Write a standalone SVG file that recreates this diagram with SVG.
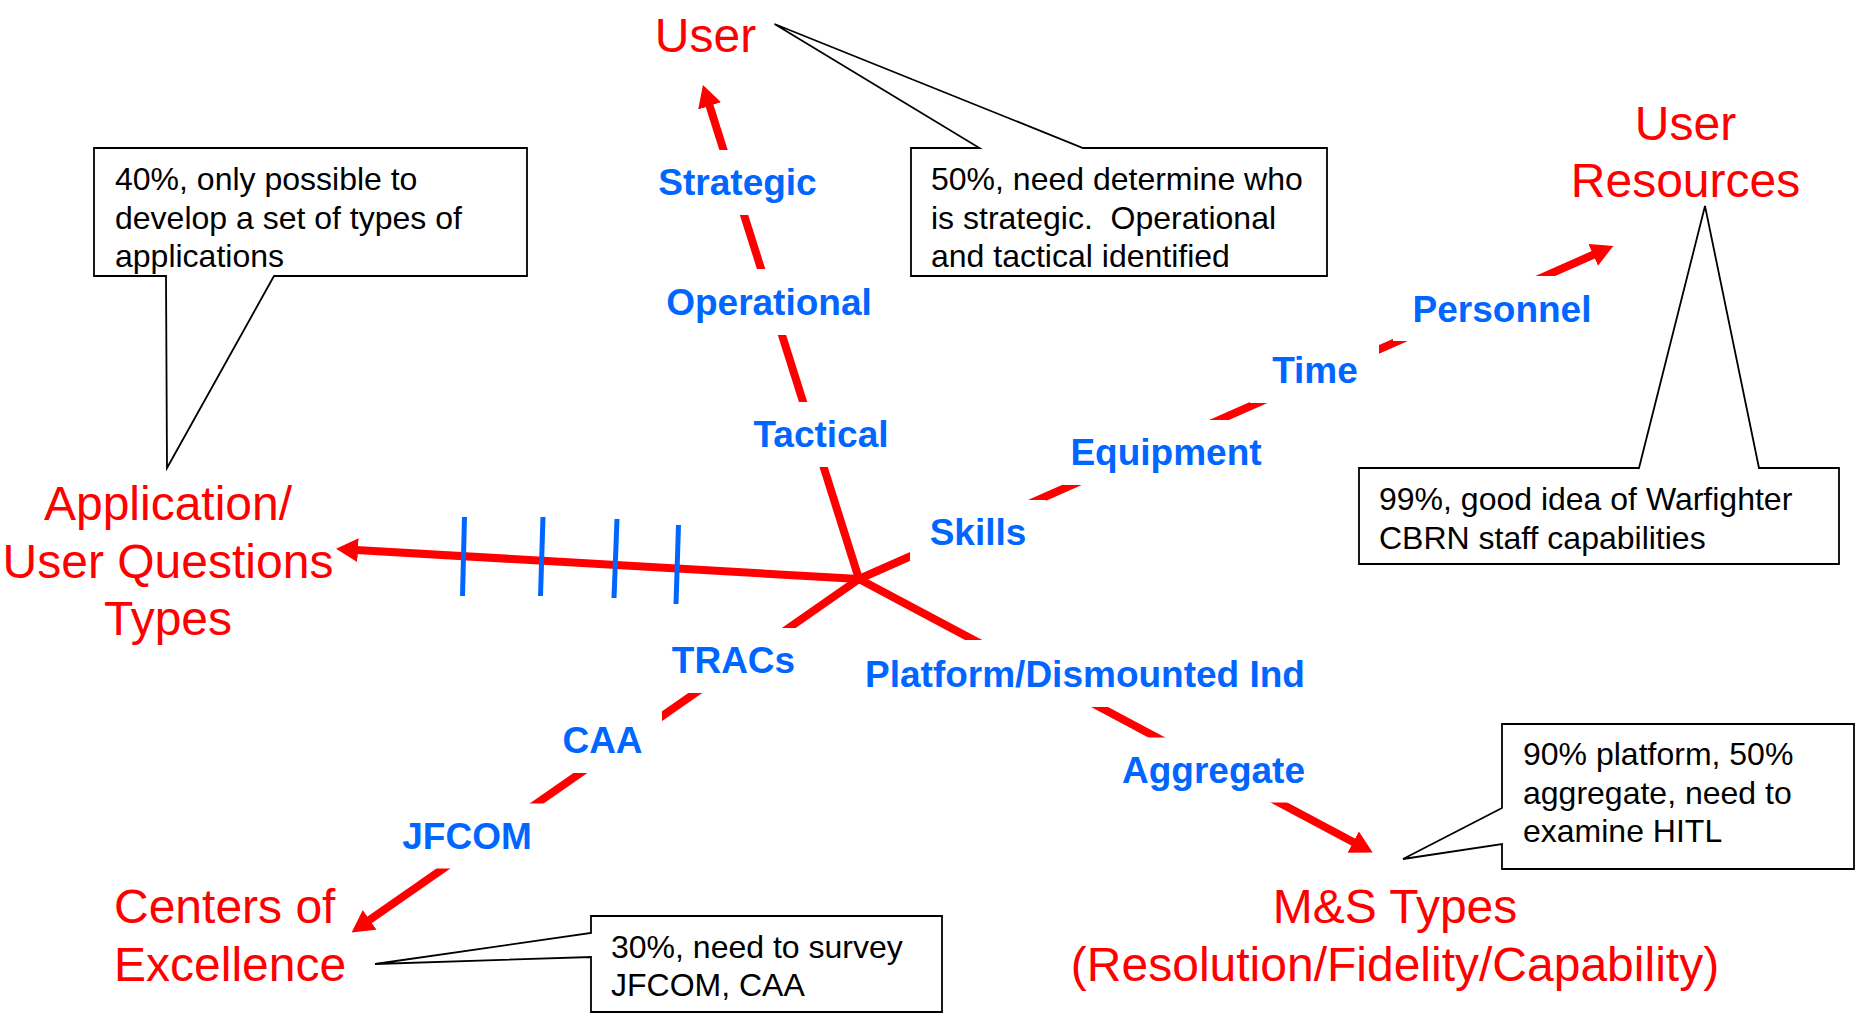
<svg xmlns="http://www.w3.org/2000/svg" width="1865" height="1017" viewBox="0 0 1865 1017">
  <style>
    .axis { stroke: #FF0000; stroke-width: 8; fill: none; }
    .tick { stroke: #0066FF; stroke-width: 5; }
    .lbl { font-family: "Liberation Sans", Arial, sans-serif; font-weight: bold; font-size: 37px; fill: #0066FF; text-anchor: middle; }
    .gap { fill: #FFFFFF; stroke: none; }
    .head { font-family: "Liberation Sans", Arial, sans-serif; font-size: 48px; fill: #FF0000; }
    .note { fill: #FFFFFF; stroke: #000000; stroke-width: 1.8; stroke-linejoin: miter; }
    .note-text { font-family: "Liberation Sans", Arial, sans-serif; font-size: 32px; fill: #000000; }
  </style>
  <defs>
    <marker id="arrow" viewBox="0 0 22 24" refX="2" refY="12" markerWidth="22" markerHeight="24" markerUnits="userSpaceOnUse" orient="auto">
      <path d="M0,0 L22,12 L0,24 Z" fill="#FF0000"/>
    </marker>
  </defs>
  <rect width="1865" height="1017" fill="#FFFFFF"/>

  <!-- red axes radiating from the hub, with arrowheads -->
  <g id="connectors">
    <line class="axis" x1="859" y1="579" x2="356" y2="550" marker-end="url(#arrow)"/>
    <line class="axis" x1="859" y1="579" x2="709" y2="104" marker-end="url(#arrow)"/>
    <line class="axis" x1="859" y1="579" x2="1595" y2="254" marker-end="url(#arrow)"/>
    <line class="axis" x1="859" y1="579" x2="368" y2="921" marker-end="url(#arrow)"/>
    <line class="axis" x1="859" y1="579" x2="1355" y2="843" marker-end="url(#arrow)"/>
    <!-- blue tick marks on the application axis -->
    <line class="tick" x1="464.5" y1="517" x2="462.5" y2="596"/>
    <line class="tick" x1="543" y1="517" x2="540.5" y2="596"/>
    <line class="tick" x1="617" y1="519" x2="614" y2="598"/>
    <line class="tick" x1="678.5" y1="525" x2="676" y2="604"/>
  </g>

  <!-- axis labels (white boxes break the red lines) -->
  <g id="lbl-strategic"><rect class="gap" x="638" y="150" width="199" height="65"/><text class="lbl" x="737.5" y="195">Strategic</text></g>
  <g id="lbl-operational"><rect class="gap" x="647" y="269" width="244" height="66"/><text class="lbl" x="769" y="315">Operational</text></g>
  <g id="lbl-tactical"><rect class="gap" x="733" y="402" width="176" height="65"/><text class="lbl" x="821" y="447">Tactical</text></g>
  <g id="lbl-skills"><rect class="gap" x="910" y="500" width="136" height="65"/><text class="lbl" x="978" y="545">Skills</text></g>
  <g id="lbl-equipment"><rect class="gap" x="1051" y="420" width="230" height="65"/><text class="lbl" x="1166" y="465">Equipment</text></g>
  <g id="lbl-time"><rect class="gap" x="1250" y="338" width="129" height="65"/><text class="lbl" x="1315" y="383">Time</text></g>
  <g id="lbl-personnel"><rect class="gap" x="1393" y="276" width="218" height="65"/><text class="lbl" x="1502" y="322">Personnel</text></g>
  <g id="lbl-tracs"><rect class="gap" x="654" y="628" width="159" height="65"/><text class="lbl" x="733.5" y="673">TRACs</text></g>
  <g id="lbl-caa"><rect class="gap" x="543" y="708" width="119" height="65"/><text class="lbl" x="602.5" y="753">CAA</text></g>
  <g id="lbl-jfcom"><rect class="gap" x="382" y="803.5" width="170" height="65"/><text class="lbl" x="467" y="849">JFCOM</text></g>
  <g id="lbl-platform"><rect class="gap" x="845" y="640" width="480" height="67"/><text class="lbl" x="1085" y="687">Platform/Dismounted Ind</text></g>
  <g id="lbl-aggregate"><rect class="gap" x="1102" y="737.5" width="223" height="65"/><text class="lbl" x="1213.5" y="783">Aggregate</text></g>

  <!-- end-point headings -->
  <g id="node-user"><text class="head" x="705.5" y="52" text-anchor="middle">User</text></g>
  <g id="node-user-resources">
    <text class="head" text-anchor="middle"><tspan x="1685.5" y="140">User</tspan><tspan x="1685.5" y="197">Resources</tspan></text>
  </g>
  <g id="node-application">
    <text class="head" text-anchor="middle"><tspan x="168" y="520">Application/</tspan><tspan x="168" y="577.5">User Questions</tspan><tspan x="168" y="635">Types</tspan></text>
  </g>
  <g id="node-centers">
    <text class="head"><tspan x="114" y="923">Centers of</tspan><tspan x="114" y="981">Excellence</tspan></text>
  </g>
  <g id="node-ms-types">
    <text class="head" text-anchor="middle"><tspan x="1395" y="923">M&amp;S Types</tspan><tspan x="1395" y="981">(Resolution/Fidelity/Capability)</tspan></text>
  </g>

  <!-- callouts -->
  <g id="note-application">
    <path class="note" d="M94,148 H527 V276 H274 L167,468 L166,276 H94 Z"/>
    <text class="note-text"><tspan x="115" y="190">40%, only possible to</tspan><tspan x="115" y="228.5">develop a set of types of</tspan><tspan x="115" y="267">applications</tspan></text>
  </g>
  <g id="note-user">
    <path class="note" d="M911,148 H979.5 L774.5,24 L1083,148 H1327 V276 H911 Z"/>
    <text class="note-text" xml:space="preserve"><tspan x="931" y="190">50%, need determine who</tspan><tspan x="931" y="229">is strategic.  Operational</tspan><tspan x="931" y="267">and tactical identified</tspan></text>
  </g>
  <g id="note-resources">
    <path class="note" d="M1359,468 H1639 L1705,206 L1759,468 H1839 V564 H1359 Z"/>
    <text class="note-text"><tspan x="1379" y="510">99%, good idea of Warfighter</tspan><tspan x="1379" y="548.5">CBRN staff capabilities</tspan></text>
  </g>
  <g id="note-ms">
    <path class="note" d="M1502,724 H1854 V869 H1502 V844 L1403,859 L1502,808 Z"/>
    <text class="note-text"><tspan x="1523" y="765">90% platform, 50%</tspan><tspan x="1523" y="803.5">aggregate, need to</tspan><tspan x="1523" y="842">examine HITL</tspan></text>
  </g>
  <g id="note-centers">
    <path class="note" d="M591,916 H942 V1012 H591 V957 L375,964 L591,933 Z"/>
    <text class="note-text"><tspan x="611" y="957.5">30%, need to survey</tspan><tspan x="611" y="996">JFCOM, CAA</tspan></text>
  </g>
</svg>
